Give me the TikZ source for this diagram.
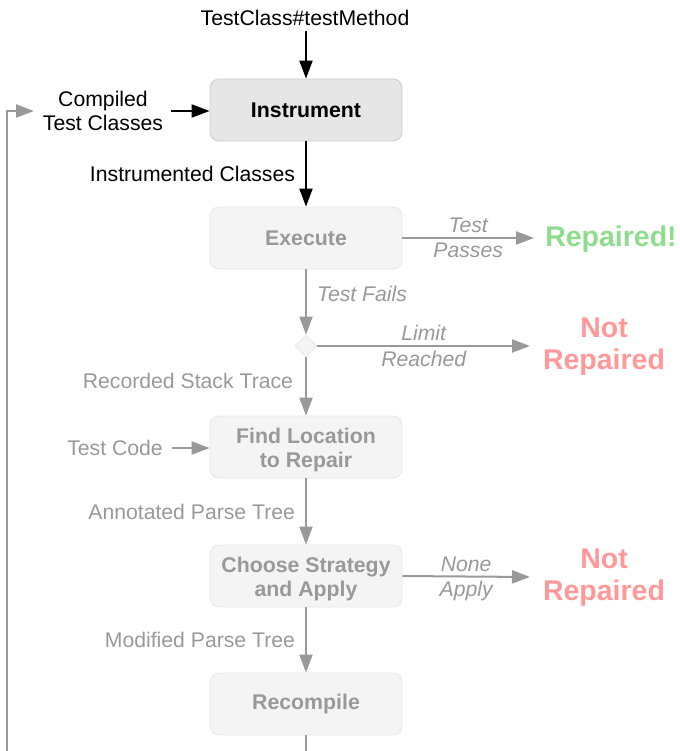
\documentclass[tikz,border=0pt]{standalone}
\usepackage{fontspec}
\setmainfont{Liberation Sans}
\usetikzlibrary{arrows.meta,shapes.geometric}
\definecolor{fadetxt}{HTML}{999999}
\definecolor{fadeln}{HTML}{999999}
\definecolor{fadefill}{HTML}{F4F4F4}
\definecolor{fadeedge}{HTML}{E6E6E6}
\definecolor{actfill}{HTML}{E6E6E6}
\definecolor{actedge}{HTML}{CCCCCC}
\definecolor{okgreen}{HTML}{8EDC8E}
\definecolor{badred}{HTML}{FF9999}
\newcommand{\twoline}[2]{\raisebox{-3.5pt}[\height][\depth]{\begin{tabular}{@{}c@{}}#1\\#2\end{tabular}}}
\tikzset{
  stepbox/.style={rectangle, rounded corners=9pt, minimum width=192pt, minimum height=62pt,
    inner sep=0pt, align=center, font=\bfseries\fontsize{21.3}{24}\selectfont, line width=0.8pt},
  activebox/.style={stepbox, fill=actfill, draw=actedge, text=black},
  fadebox/.style={stepbox, fill=fadefill, draw=fadeedge, text=fadetxt},
  lbl/.style={font=\fontsize{21.2}{23.5}\selectfont, inner sep=0pt, align=center},
  flbl/.style={lbl, text=fadetxt},
  ilbl/.style={lbl, text=fadetxt, font=\itshape\fontsize{21.2}{23.5}\selectfont},
  outcome/.style={font=\bfseries\fontsize{28.5}{32}\selectfont, align=center, inner sep=0pt},
  blk/.style={line width=2pt, draw=black, -{Triangle[length=18pt,width=13pt]}},
  gry/.style={line width=2pt, draw=fadeln, -{Triangle[length=18pt,width=13pt]}},
  gryline/.style={line width=2pt, draw=fadeln},
}
\begin{document}
\begin{tikzpicture}[x=1pt,y=-1pt]
\useasboundingbox (0,0) rectangle (679,751);
% nodes
\node[activebox] (instr) at (306,110) {Instrument};
\node[fadebox] (exec) at (306,238) {Execute};
\node[diamond, fill=fadefill, draw=fadeedge, line width=0.8pt, minimum width=22pt, minimum height=22pt, inner sep=0pt] (dec) at (306,346) {};
\node[fadebox] (find) at (306,447) {\twoline{Find Location}{to Repair}};
\node[fadebox] (choose) at (306,576) {\twoline{Choose Strategy}{and Apply}};
\node[fadebox] (recomp) at (306,704) {Recompile};

\node[lbl] (tm) at (305,18) {TestClass\#testMethod};
\node[lbl] (compiled) at (103,111) {Compiled\\Test Classes};
\node[flbl] (testcode) at (115,448) {Test Code};

\node[outcome, text=okgreen] (rep) at (611,239) {Repaired!};
\node[outcome, text=badred] (nr1) at (604,347) {Not\\Repaired};
\node[outcome, text=badred] (nr2) at (604,578) {Not\\Repaired};

% anchors for connectors
\coordinate (tmtop) at (306,31);
\coordinate (cmpR) at (171,111);
\coordinate (tcR) at (172,448);
\coordinate (repL) at (534,238);
\coordinate (nr1L) at (530,346);
\coordinate (nr2L) at (530,577);
\coordinate (bot) at (306,751);
\coordinate (botL) at (7,751);
\coordinate (loopT) at (7,111);
\coordinate (loopE) at (34,111);

% connectors
\draw[blk] (tmtop) -- (instr.north);
\draw[blk] (cmpR) -- (instr.west |- cmpR);
\draw[blk] (instr.south) -- (exec.north)
  node[pos=0.5, left=10pt, lbl, text=black] {Instrumented Classes};
\draw[gry] (exec.east) -- (repL)
  node[pos=0.5, above=4pt, ilbl] {Test}
  node[pos=0.5, below=4pt, ilbl] {Passes};
\draw[gry] (exec.south) -- (dec.north)
  node[pos=0.38, right=10pt, ilbl] {Test Fails};
\draw[gry] (dec.east) -- (nr1L)
  node[pos=0.5, above=4pt, ilbl] {Limit}
  node[pos=0.5, below=4pt, ilbl] {Reached};
\draw[gry] (dec.south) -- (find.north)
  node[pos=0.4, left=12pt, flbl] {Recorded Stack Trace};
\draw[gry] (tcR) -- (find.west |- tcR);
\draw[gry] (find.south) -- (choose.north)
  node[pos=0.5, left=10pt, flbl] {Annotated Parse Tree};
\draw[gry] (choose.east) -- (nr2L)
  node[pos=0.5, above=4pt, ilbl] {None}
  node[pos=0.5, below=4pt, ilbl] {Apply};
\draw[gry] (choose.south) -- (recomp.north)
  node[pos=0.5, left=10pt, flbl] {Modified Parse Tree};
\draw[gryline] (recomp.south) -- (bot);
\draw[gry] (botL) -- (loopT) -- (loopE);
\end{tikzpicture}
\end{document}
